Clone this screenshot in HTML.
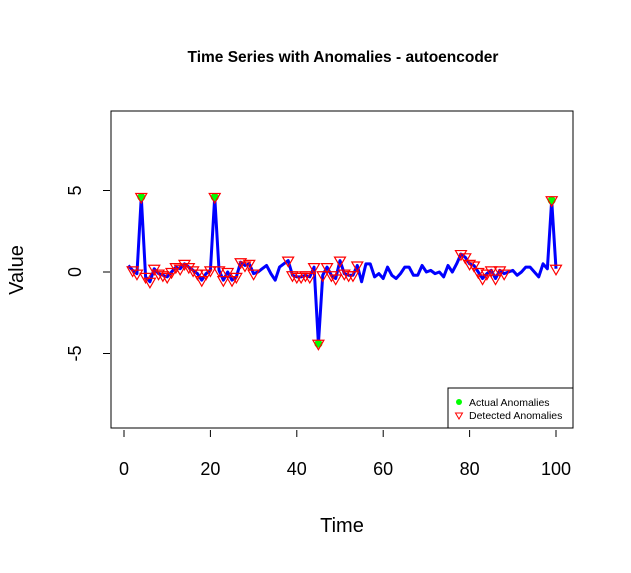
<!DOCTYPE html>
<html><head><meta charset="utf-8"><style>
body{margin:0;background:#fff}
text{font-family:"Liberation Sans",Arial,sans-serif}
</style></head><body>
<svg id="c" width="631" height="568" xmlns="http://www.w3.org/2000/svg">
<rect width="631" height="568" fill="#fff"/>
<text x="343" y="62" text-anchor="middle" font-size="15.5" font-weight="bold">Time Series with Anomalies - autoencoder</text>
<rect x="111" y="111" width="462" height="317" fill="none" stroke="#000"/>
<g id="ax"></g>
<g id="series"></g>
<g id="marks"></g>
<text x="342" y="532" text-anchor="middle" font-size="20">Time</text>
<text transform="translate(23,270) rotate(-90)" text-anchor="middle" font-size="20">Value</text>
<g>
<rect x="448" y="388" width="125" height="40" fill="#fff" stroke="#000"/>
<circle cx="459" cy="402" r="3" fill="#00ff00"/>
<text x="469" y="406" font-size="10.5">Actual Anomalies</text>
<path d="M455.5,413 L462.5,413 L459,419 Z" fill="none" stroke="#f00"/>
<text x="469" y="419" font-size="10.5">Detected Anomalies</text>
</g>
</svg>
<script>
const values=[0.4,0.1,-0.1,4.6,-0.3,-0.6,0.2,-0.1,-0.2,-0.3,0.0,0.3,0.2,0.5,0.3,0.1,-0.1,-0.5,-0.1,0.1,4.6,0.1,-0.5,0.0,-0.5,-0.3,0.6,0.4,0.5,-0.1,0.0,0.2,0.4,-0.1,-0.5,0.3,0.5,0.7,-0.2,-0.3,-0.3,-0.2,-0.3,0.3,-4.4,-0.2,0.3,-0.2,-0.4,0.7,-0.1,-0.2,-0.2,0.4,-0.6,0.5,0.5,-0.3,-0.1,-0.4,0.3,-0.2,-0.4,-0.1,0.3,0.3,-0.2,-0.2,0.4,0.0,0.1,-0.1,0.0,-0.3,0.4,0.0,0.5,1.1,0.9,0.5,0.4,0.0,-0.4,-0.1,0.1,-0.4,0.1,-0.1,0.0,0.1,-0.2,0.0,0.3,0.3,0.0,-0.3,0.5,0.2,4.4,0.2];
const actualIdx=[4,21,45,99];
const detectedIdx=[2,3,4,5,6,7,8,9,10,11,12,13,14,15,16,17,18,19,20,21,22,23,24,25,26,27,28,29,30,38,39,40,41,42,43,44,45,46,47,48,49,50,51,52,53,54,78,79,80,81,82,83,84,85,86,87,88,99,100];
const xTicks=[0,20,40,60,80,100];
const yTicks=[-5,0,5];
const NS='http://www.w3.org/2000/svg';
const X=v=>124+v*4.32, Y=v=>272-v*16.3;
function mk(t,a,p){const e=document.createElementNS(NS,t);for(const k in a)e.setAttribute(k,a[k]);p.appendChild(e);return e;}
const ax=document.getElementById('ax');
xTicks.forEach(t=>{
 const l=mk('line',{x1:X(t),x2:X(t),y1:430,y2:437,stroke:'#000'},ax);
 
 
 const tx=mk('text',{x:X(t),y:475,'text-anchor':'middle','font-size':'18'},ax);tx.textContent=t;
 
 
});
yTicks.forEach(t=>{
 const l=mk('line',{x1:103,x2:110,y1:Y(t),y2:Y(t),stroke:'#000'},ax);
 
 
 const tx=mk('text',{'text-anchor':'middle','font-size':'18',transform:`translate(81,${Y(t)}) rotate(-90)`},ax);tx.textContent=t;
 
 
});
const s=document.getElementById('series');
const line=mk('polyline',{points:values.map((v,i)=>X(i+1)+','+Y(v)).join(' '),fill:'none',stroke:'#0000ff','stroke-width':3,'stroke-linejoin':'round'},s);


const m=document.getElementById('marks');
actualIdx.forEach(i=>{
 const c=mk('circle',{cx:X(i),cy:Y(values[i-1]),r:4,fill:'#00ff00'},m);
 
 
});
detectedIdx.forEach(i=>{
 const x=X(i),y=Y(values[i-1]);
 const p=mk('path',{d:`M${x-5.5},${y-3.5} L${x+5.5},${y-3.5} L${x},${y+6} Z`,fill:'none',stroke:'#ff0000','stroke-width':1.2},m);
 
 
});
</script>
</body></html>
